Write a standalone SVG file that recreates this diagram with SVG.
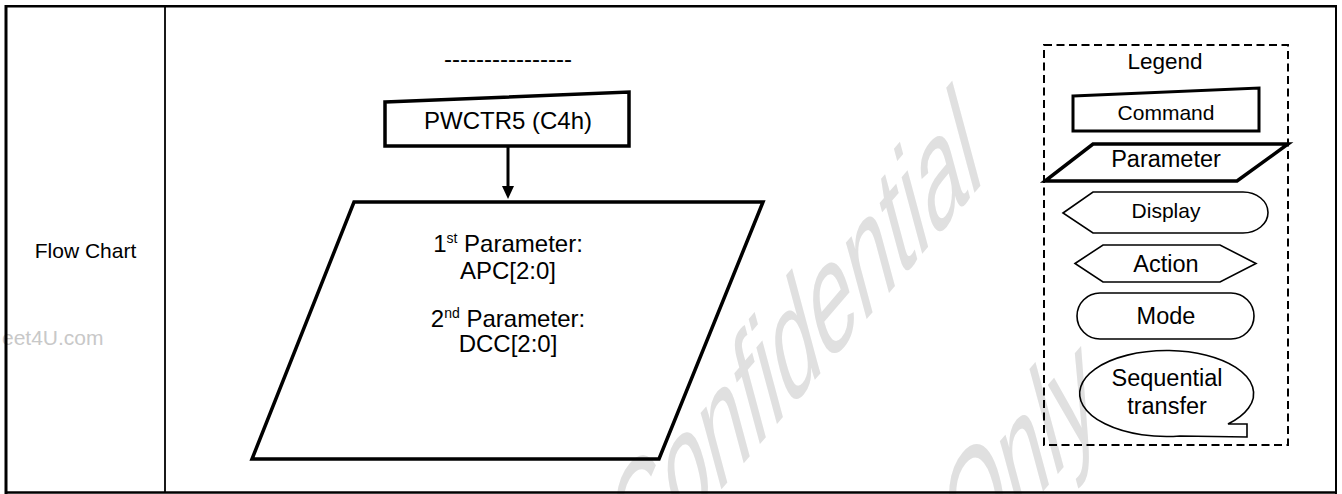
<svg xmlns="http://www.w3.org/2000/svg" width="1342" height="494" viewBox="0 0 1342 494">
<style>
text{font-family:"Liberation Sans",Arial,sans-serif;fill:#000}
.wm{fill:#e0e0e0;font-size:100px}
.thick{fill:none;stroke:#000;stroke-width:3.5;stroke-linejoin:miter}
.thin{fill:none;stroke:#000;stroke-width:1.6}
.c{text-anchor:middle}
</style>
<rect width="1342" height="494" fill="#fff"/>
<g id="watermark">
<text class="wm" transform="matrix(0.67 -0.785 0.39 1.45 631 595)">Confidential</text>
<text class="wm" transform="matrix(0.67 -0.785 0.39 1.45 964 584)">Only</text>
<text x="2" y="345" style="fill:#c8c8c8;font-size:21px">eet4U.com</text>
</g>
<g id="table">
<line x1="6" y1="6.2" x2="1336" y2="6.2" stroke="#000" stroke-width="2.5"/>
<line x1="6" y1="492.5" x2="1336" y2="492.5" stroke="#000" stroke-width="2.5"/>
<line x1="6" y1="5" x2="6" y2="494" stroke="#000" stroke-width="3"/>
<line x1="1336" y1="5" x2="1336" y2="494" stroke="#000" stroke-width="2"/>
<line x1="165" y1="6" x2="165" y2="492" stroke="#000" stroke-width="1.8"/>
<text x="85.5" y="258" class="c" style="font-size:21px">Flow Chart</text>
</g>
<g id="title"><text x="508" y="67" class="c" style="font-size:24px">----------------</text></g>
<g id="connectors">
<line x1="508" y1="146" x2="508" y2="188" stroke="#000" stroke-width="3"/>
<path d="M502,186 L514,186 L508,199 Z" fill="#000"/>
</g>
<g id="cmd">
<polygon class="thick" points="385,102 629,92 629,146 385,146"/>
<text x="508" y="129" class="c" style="font-size:24px">PWCTR5 (C4h)</text>
</g>
<g id="param">
<polygon class="thick" points="354,202 763,202 659,459 252,459"/>
<text x="508" y="252" class="c" style="font-size:24px">1<tspan dy="-9" style="font-size:14px">st</tspan><tspan dy="9"> Parameter:</tspan></text>
<text x="508" y="279" class="c" style="font-size:24px">APC[2:0]</text>
<text x="508" y="327" class="c" style="font-size:24px">2<tspan dy="-9" style="font-size:14px">nd</tspan><tspan dy="9"> Parameter:</tspan></text>
<text x="508" y="352" class="c" style="font-size:24px">DCC[2:0]</text>
</g>
<g id="legend">
<rect x="1044" y="45" width="244" height="400" fill="none" stroke="#000" stroke-width="2" stroke-dasharray="8,4.5"/>
<text x="1165" y="69" class="c" style="font-size:22.5px">Legend</text>
</g>
<g id="legend-command">
<polygon class="thick" points="1073,96 1259,88 1259,131 1073,131" style="stroke-width:3"/>
<text x="1166" y="120" class="c" style="font-size:21px">Command</text>
</g>
<g id="legend-parameter">
<polygon class="thick" points="1093,144 1288,144 1237,181 1045,181"/>
<text x="1166" y="167" class="c" style="font-size:23.5px">Parameter</text>
</g>
<g id="legend-display">
<path class="thin" d="M1063,213 L1093,192 L1243,192 A25,20.5 0 0 1 1243,233 L1093,233 Z"/>
<text x="1166" y="218" class="c" style="font-size:21px">Display</text>
</g>
<g id="legend-action">
<polygon class="thin" points="1075,263.5 1103,245 1220,245 1256,263.5 1220,282 1103,282"/>
<text x="1166" y="272" class="c" style="font-size:23.5px">Action</text>
</g>
<g id="legend-mode">
<rect class="thin" x="1077" y="293" width="177" height="46" rx="23"/>
<text x="1166" y="324" class="c" style="font-size:23.5px">Mode</text>
</g>
<g id="legend-sequential">
<path class="thin" d="M1228,424 L1247,424 L1247,437 L1180,436 A87,43 0 1 1 1228,424 Z"/>
<text x="1167" y="386" class="c" style="font-size:23.5px">Sequential</text>
<text x="1167" y="414" class="c" style="font-size:23.5px">transfer</text>
</g>
</svg>
